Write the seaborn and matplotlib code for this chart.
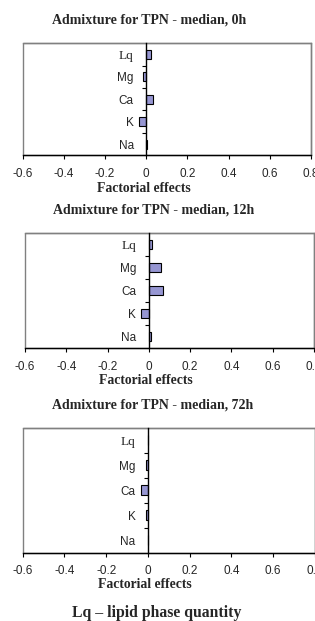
import matplotlib
matplotlib.use("Agg")
import matplotlib.pyplot as plt
import matplotlib.patches as mpatches
import seaborn as sns
import pandas as pd
import numpy as np

# ---- data ----
categories = ["Lq", "Mg", "Ca", "K", "Na"]
effects_0h = [0.021, -0.017, 0.034, -0.034, 0.002]
effects_12h = [0.015, 0.060, 0.068, -0.037, 0.011]
effects_72h = [0.001, -0.010, -0.032, -0.011, 0.001]
titles = ["Admixture for TPN - median, 0h",
          "Admixture for TPN - median, 12h",
          "Admixture for TPN - median, 72h"]
x_ticks = [-0.6, -0.4, -0.2, 0, 0.2, 0.4, 0.6, 0.8]
x_label = "Factorial effects"
footer = "Lq \u2013 lipid phase quantity"

sns.set_theme(style="white")
plt.rcParams["font.family"] = ["Liberation Sans", "DejaVu Sans"]

W, H = 315, 621
fig = plt.figure(figsize=(W / 100, H / 100), dpi=100)

def px(x0, y_top, x1, y_bot):
    return [x0 / W, 1 - y_bot / H, (x1 - x0) / W, (y_bot - y_top) / H]

# (axes rect in px, title y, title x, xlabel y, xlabel x)
layouts = [
    (px(22.7, 43.3, 311.0, 155.3), 20, 149, 188, 144),
    (px(25.0, 233.0, 314.0, 348.0), 210, 154, 381, 146),
    (px(22.7, 427.7, 315.0, 553.0), 405, 153, 584, 145),
]
series = [effects_0h, effects_12h, effects_72h]
bar_color = "#9696d2"
frame_gray = "#808080"

for vals, title, (rect, ty, tx, ly, lx) in zip(series, titles, layouts):
    ax = fig.add_axes(rect)
    df = pd.DataFrame({"factor": categories, "effect": vals})
    sns.barplot(data=df, x="effect", y="factor", order=categories, orient="h",
                color=bar_color, saturation=1, width=0.4,
                edgecolor="black", linewidth=0.8, ax=ax)
    ax.set_xlim(-0.6, 0.8)
    ax.set_ylim(4.5, -0.5)
    ax.set_xlabel("")
    ax.set_ylabel("")

    for s in ["top", "right"]:
        ax.spines[s].set_color(frame_gray)
        ax.spines[s].set_linewidth(1.0)
    ax.spines["bottom"].set_color("black")
    ax.spines["bottom"].set_linewidth(1.0)
    ax.spines["left"].set_position(("data", 0))
    ax.spines["left"].set_color("black")
    ax.spines["left"].set_linewidth(1.0)
    ax.spines["left"].set_zorder(5)
    frame = mpatches.Rectangle((0, 0), 1, 1, transform=ax.transAxes, fill=False,
                               edgecolor=frame_gray, linewidth=1.0, clip_on=False,
                               zorder=0)
    ax.add_patch(frame)

    ax.set_xticks(x_ticks)
    ax.set_xticklabels([f"{t:g}" for t in x_ticks], fontsize=8.5)
    ax.tick_params(axis="x", direction="out", length=3, width=0.8, color="black",
                   pad=6, bottom=True)
    ax.set_yticks(range(len(categories)))
    ax.set_yticklabels(categories, fontsize=8.5)
    ax.set_yticks([0.5, 1.5, 2.5, 3.5], minor=True)
    ax.tick_params(axis="y", which="major", length=0, pad=9, left=True)
    ax.tick_params(axis="y", which="minor", direction="out", length=3, width=0.8,
                   color="black", left=True)
    for lab in ax.get_yticklabels():
        if lab.get_text() == "Lq":
            lab.set_fontfamily(["Liberation Serif"])
            lab.set_fontsize(9.5)

    fig.text(tx / W, 1 - ty / H, title, ha="center", va="center",
             fontfamily="Liberation Serif", fontweight="bold", fontsize=10)
    fig.text(lx / W, 1 - ly / H, x_label, ha="center", va="center",
             fontfamily="Liberation Serif", fontweight="bold", fontsize=9.8)

fig.text(157 / W, 1 - 613 / H, footer, ha="center", va="center",
         fontfamily="Liberation Serif", fontweight="bold", fontsize=11.3)

fig.savefig("out.png", dpi=100)
